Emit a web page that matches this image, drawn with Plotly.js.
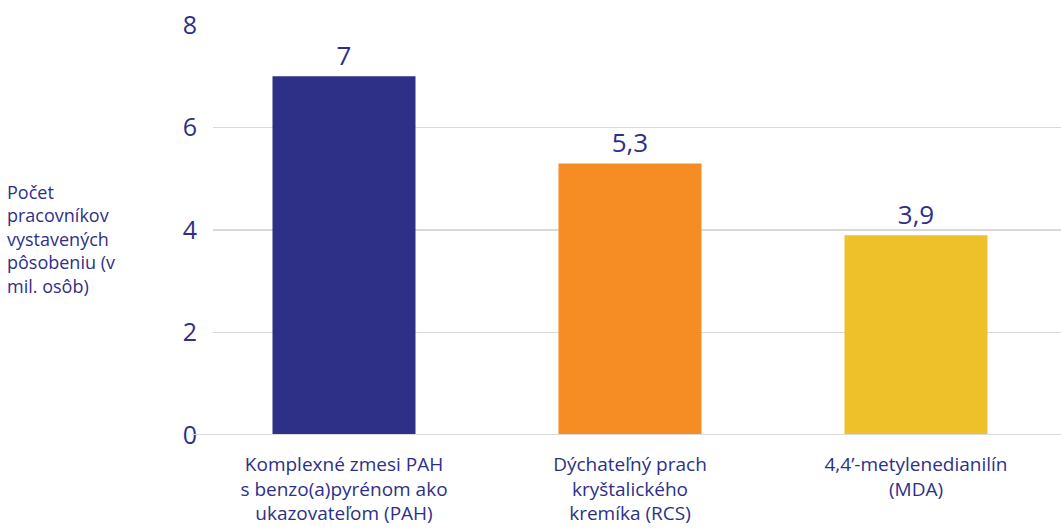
<!DOCTYPE html>
<html>
<head>
<meta charset="utf-8">
<script src="https://cdn.plot.ly/plotly-3.0.1.min.js"></script>
<style>html,body{margin:0;padding:0;background:#fff;}#chart{width:1061px;height:529px;}</style>
</head>
<body>
<div id="chart"></div>
<script>
const categories = [
  "Komplexné zmesi PAH<br>s benzo(a)pyrénom ako<br>ukazovateľom (PAH)",
  "Dýchateľný prach<br>kryštalického<br>kremíka (RCS)",
  "4,4’-metylenedianilín<br>(MDA)"
];
const values = [7, 5.3, 3.9];
const barColors = ["#2E3088", "#F58C24", "#EEC12A"];
const yTitle = "Počet<br>pracovníkov<br>vystavených<br>pôsobeniu (v<br>mil. osôb)";
const yTicks = [0, 2, 4, 6, 8];

const navy = "#2E3088";
const font = "Open Sans, Roboto, sans-serif";
const H = 529 - 25 - 94;

const trace = {
  type: "bar",
  x: categories,
  y: values,
  marker: {color: barColors},
  text: values.map(v => String(v).replace(".", ",")),
  textposition: "outside",
  textfont: {family: font, size: 26, color: navy},
  cliponaxis: false,
  width: 0.5,
  hoverinfo: "none"
};

const layout = {
  width: 1061, height: 529,
  margin: {l: 213, r: 0, t: 25, b: 94},
  paper_bgcolor: "#fff", plot_bgcolor: "#fff",
  separators: ", ",
  showlegend: false,
  font: {family: font, color: navy},
  xaxis: {
    type: "category",
    range: [-0.458, 2.507],
    tickfont: {family: font, size: 19, color: navy},
    showgrid: false, zeroline: false, showline: false,
    ticks: "outside", ticklen: 12, tickcolor: "rgba(0,0,0,0)"
  },
  yaxis: {
    range: [0, 8],
    tickvals: yTicks,
    ticktext: yTicks.map(String),
    tickfont: {family: font, size: 25, color: navy},
    showgrid: true, gridcolor: "#D9D9D9", gridwidth: 1.5,
    zeroline: false, showline: false,
    ticks: "outside", ticklen: 10, tickcolor: "rgba(0,0,0,0)"
  },
  shapes: [{
    type: "line", xref: "paper", yref: "y",
    x0: -0.025, x1: 1, y0: 0, y1: 0,
    line: {color: "#D9D9D9", width: 2}
  }],
  annotations: [{
    text: yTitle, xref: "paper", yref: "paper",
    x: -0.245, y: (435 - 178) / H, xanchor: "left", yanchor: "top",
    align: "left", showarrow: false,
    font: {family: font, size: 18, color: navy}
  }]
};

Plotly.newPlot("chart", [trace], layout, {staticPlot: true, displayModeBar: false});
</script>
</body>
</html>
